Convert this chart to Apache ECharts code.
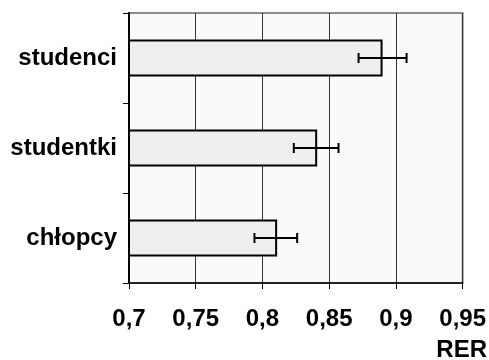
<!DOCTYPE html>
<html><head><meta charset="utf-8">
<script src="https://cdn.jsdelivr.net/npm/echarts@6/dist/echarts.min.js"></script>
<style>html,body{margin:0;padding:0;background:#fff}#c{width:489px;height:360px}</style>
</head><body><div id="c"></div>
<script>
const categories = ['chłopcy', 'studentki', 'studenci'];
const means = [0.811, 0.841, 0.890];
const errLow = [0.794, 0.8235, 0.872];
const errHigh = [0.826, 0.857, 0.908];
const xTicks = { min: 0.7, max: 0.95, interval: 0.05 };
const axisName = 'RER';

const FONT = '"Liberation Sans", Arial, sans-serif';
const chart = echarts.init(document.getElementById('c'), null, { renderer: 'canvas' });
chart.setOption({
  animation: false,
  grid: { left: 129, right: 26, top: 13, bottom: 77, show: true, backgroundColor: '#fafafa', borderColor: '#8c8c8c', borderWidth: 2 },
  xAxis: {
    type: 'value', min: xTicks.min, max: xTicks.max, interval: xTicks.interval,
    axisLine: { show: true, lineStyle: { color: '#000', width: 1.5 } },
    axisTick: { show: true, length: 6, lineStyle: { color: '#000' } },
    splitLine: { show: true, lineStyle: { color: '#333', width: 1 } },
    axisLabel: { color: '#000', fontFamily: FONT, fontWeight: 'bold', fontSize: 24, margin: 24,
      formatter: v => String(Math.round(v * 100) / 100).replace('.', ',') }
  },
  yAxis: {
    type: 'category', data: categories,
    axisLine: { show: true, lineStyle: { color: '#000', width: 2 } },
    axisTick: { show: true, length: 6, lineStyle: { color: '#000' } },
    axisLabel: { color: '#000', fontFamily: FONT, fontWeight: 'bold', fontSize: 24, margin: 12, padding: [4, 0, 0, 0] }
  },
  graphic: [{ type: 'text', right: 2, top: 338, style: { text: axisName, fill: '#000', font: 'bold 24px ' + FONT } }],
  series: [{
    type: 'bar', data: means, barWidth: 37,
    itemStyle: { color: '#efefef', borderColor: '#000', borderWidth: 2 }
  }, {
    type: 'custom', data: categories.map((c, i) => [i, errLow[i], errHigh[i]]),
    encode: { y: 0, x: [1, 2] },
    renderItem: function (params, api) {
      const lo = api.coord([api.value(1), api.value(0)]);
      const hi = api.coord([api.value(2), api.value(0)]);
      const y = lo[1], h = 5;
      const st = { stroke: '#000', lineWidth: 2 };
      return { type: 'group', children: [
        { type: 'line', shape: { x1: lo[0], y1: y, x2: hi[0], y2: y }, style: st },
        { type: 'line', shape: { x1: lo[0], y1: y - h, x2: lo[0], y2: y + h }, style: st },
        { type: 'line', shape: { x1: hi[0], y1: y - h, x2: hi[0], y2: y + h }, style: st }
      ] };
    }, z: 5
  }]
});
</script></body></html>
